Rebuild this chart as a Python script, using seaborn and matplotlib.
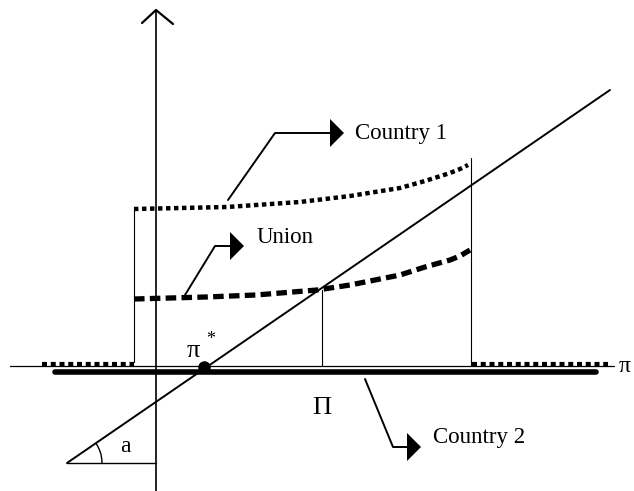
import numpy as np
import pandas as pd
import seaborn as sns
import matplotlib
matplotlib.use("Agg")
import matplotlib.pyplot as plt
from matplotlib.patches import Arc

sns.set_style("white")
plt.rcParams["font.family"] = ["Liberation Serif", "DejaVu Serif"]
plt.rcParams["text.color"] = "black"

# ---- data (diagram units: origin at axes crossing, y up) ----
c1_x = [-22, 71, 144, 194, 244, 269, 294, 304, 312]
c1_y = [157, 159, 164, 170, 178, 185, 193, 197, 201]
union_x = [-22, 50, 100, 161, 194, 244, 269, 294, 304, 314]
union_y = [67, 69, 71, 76, 81, 91, 99, 106, 110, 116]
diag_x = [-89, 454]
diag_y = [-97, 276]
pi_star = (48, -1)
Pi_x = 166
c1_end_x = 315
left_drop_x = -22
zero_left = [-114, -22]
zero_right = [316, 452]
c2_range = [-101, 440]

fig = plt.figure(figsize=(6.34, 4.91), dpi=100)
ax = fig.add_axes([0, 0, 1, 1])
ax.set_xlim(-156, 478)
ax.set_ylim(-125, 366)
ax.axis("off")

k = "black"


def line(xs, ys, **kw):
    sns.lineplot(x=xs, y=ys, color=k, ax=ax, sort=False, estimator=None, **kw)


# axes
line([-146, 458], [0, 0], lw=0.9)
line([0, 0], [-125, 355], lw=1.2)
line([-14, 0, 17], [343, 356, 342], lw=1.6)

# diagonal line
line(diag_x, diag_y, lw=1.4)

# Country 1 dotted curve
line(c1_x, c1_y, lw=3.2, linestyle=(0, (1.0, 0.8)), dash_capstyle="butt")
# Union dashed curve
line(union_x, union_y, lw=3.8, linestyle=(0, (2.0, 1.0)), dash_capstyle="butt")

# vertical drop lines
line([left_drop_x, left_drop_x], [158, 4], lw=0.8)
line([Pi_x, Pi_x], [76, 0], lw=0.8)
line([c1_end_x, c1_end_x], [208, 0], lw=0.8)

# dotted segments on the axis
for seg in (zero_left, zero_right):
    line(seg, [2.5, 2.5], lw=3.0, linestyle=(0, (1.2, 0.9)), dash_capstyle="butt")

# Country 2 thick line
line(c2_range, [-6, -6], lw=4.0)

# pi* point
ax.plot([pi_star[0]], [pi_star[1]], "o", color=k, ms=8)
ax.text(37, 15, "π", fontsize=19, ha="center", va="center", color=k)
ax.text(55, 27, "*", fontsize=13, ha="center", va="center", color=k)
ax.text(463, 0, "π", fontsize=17, ha="left", va="center", color=k)
ax.text(Pi_x, -42, "Π", fontsize=19, ha="center", va="center", color=k)

# angle a
line([-89, 0], [-97, -97], lw=1.0)
ax.add_patch(Arc((-89, -97), 70, 70, theta1=0, theta2=34, color=k, lw=1.0))
ax.text(-31, -81, "a", fontsize=17, ha="center", va="center", color=k)


# label arrows
def label_arrow(xs, ys, tip_x, text, tx, ty):
    line(xs, ys, lw=1.4)
    y0 = ys[-1]
    ax.fill([tip_x - 14, tip_x, tip_x - 14], [y0 + 14, y0, y0 - 14], color=k, lw=0)
    ax.text(tx, ty, text, fontsize=16.5, ha="left", va="center", color=k)


label_arrow([72, 119, 176], [166, 233, 233], 188, "Country 1", 199, 232)
label_arrow([29, 59, 78], [71, 120, 120], 88, "Union", 101, 129)
label_arrow([209, 237, 252], [-13, -81, -81], 265, "Country 2", 277, -72)

fig.savefig("out.png", dpi=100)
